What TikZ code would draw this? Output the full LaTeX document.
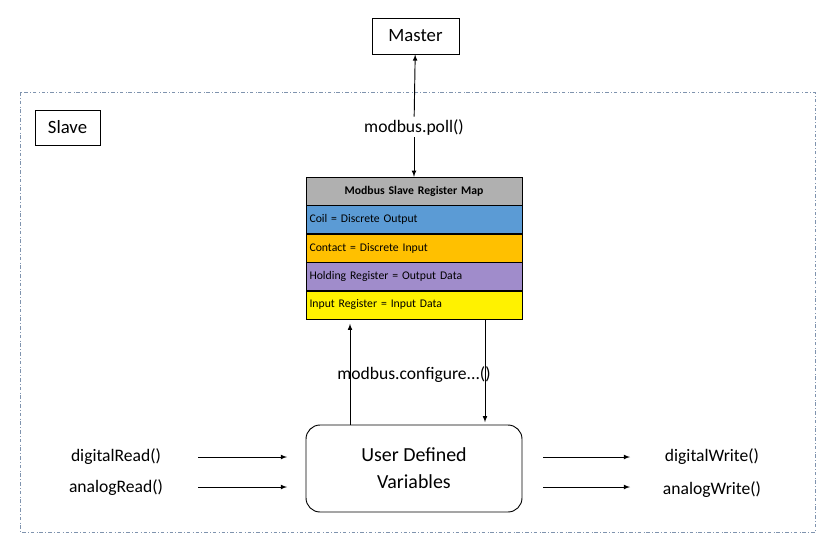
\documentclass[tikz,border=0pt]{standalone}
\usepackage{fontspec}
\setmainfont{Carlito}
\usetikzlibrary{positioning}
\definecolor{regblue}{HTML}{5B9BD5}
\definecolor{regorange}{HTML}{FFC000}
\definecolor{regpurple}{HTML}{A08CCB}
\definecolor{reggray}{HTML}{B0B0B0}
\definecolor{framecol}{HTML}{7F93AE}
\tikzset{
  box/.style={draw, thick, inner sep=0pt, font=\fontsize{16}{18}\selectfont},
  reg/.style={draw, minimum width=216*0.03cm, minimum height=28*0.03cm, inner sep=3pt,
    text width=216*0.03cm-6pt, align=left, font=\fontsize{10}{12}\selectfont},
  lbl/.style={font=\fontsize{15}{17}\selectfont, fill=white, inner sep=2pt},
  arr/.style={-latex, thick}
}
\begin{document}
\begin{tikzpicture}[x=0.03cm, y=-0.03cm]
\useasboundingbox (0,0) rectangle (835,551);
% slave frame
\draw[framecol, dash dot] (20,92) rectangle (815,532);
\node[box, minimum width=65*0.03cm, minimum height=35*0.03cm] (slave) at (67.5,127.5) {Slave};
\node[box, minimum width=87*0.03cm, minimum height=36*0.03cm] (master) at (415.5,36) {Master};
% register map
\node[reg, fill=reggray, align=center, font=\fontsize{10}{12}\selectfont\bfseries] (hdr) at (414,191) {Modbus Slave Register Map};
\node[reg, fill=regblue, below=0pt of hdr] (coil) {Coil = Discrete Output};
\node[reg, fill=regorange, below=0pt of coil] (cont) {Contact = Discrete Input};
\node[reg, fill=regpurple, below=0pt of cont] (hold) {Holding Register = Output Data};
\node[reg, fill=yellow, below=0pt of hold] (inp) {Input Register = Input Data};
% user variables
\node[box, rounded corners=12pt, minimum width=216*0.03cm, minimum height=87*0.03cm,
  align=center, font=\fontsize{17}{23}\selectfont] (user) at (414,468.5) {User Defined\\Variables};
% poll
\node[lbl] (poll) at (414,127) {modbus.poll()};
\draw[arr] (poll) -- (master);
\draw[arr] (poll) -- (hdr);
% configure
\node[lbl] (conf) at (414,375) {modbus.configure...()};
\coordinate (cl) at (350,375);
\coordinate (cr) at (485,375);
\draw[thick] (user.north -| cl) -- ([yshift=12]cl);
\draw[arr] ([yshift=-14]cl) -- ([yshift=-4]inp.south -| cl);
\draw[thick] (inp.south -| cr) -- ([yshift=-14]cr);
\draw[arr] ([yshift=12]cr) -- ([yshift=2]user.north -| cr);
% inputs and outputs
\node[lbl] (dread) at (116,457) {digitalRead()};
\node[lbl] (aread) at (116,488) {analogRead()};
\node[lbl] (dwrite) at (712,457) {digitalWrite()};
\node[lbl] (awrite) at (712,490) {analogWrite()};
\coordinate (d1) at (198,457); \coordinate (d2) at (287,457);
\coordinate (a1) at (198,487); \coordinate (a2) at (287,487);
\coordinate (e1) at (543,457); \coordinate (e2) at (630,457);
\coordinate (f1) at (543,487); \coordinate (f2) at (630,487);
\draw[arr] (d1) -- (d2);
\draw[arr] (a1) -- (a2);
\draw[arr] (e1) -- (e2);
\draw[arr] (f1) -- (f2);
\end{tikzpicture}
\end{document}
